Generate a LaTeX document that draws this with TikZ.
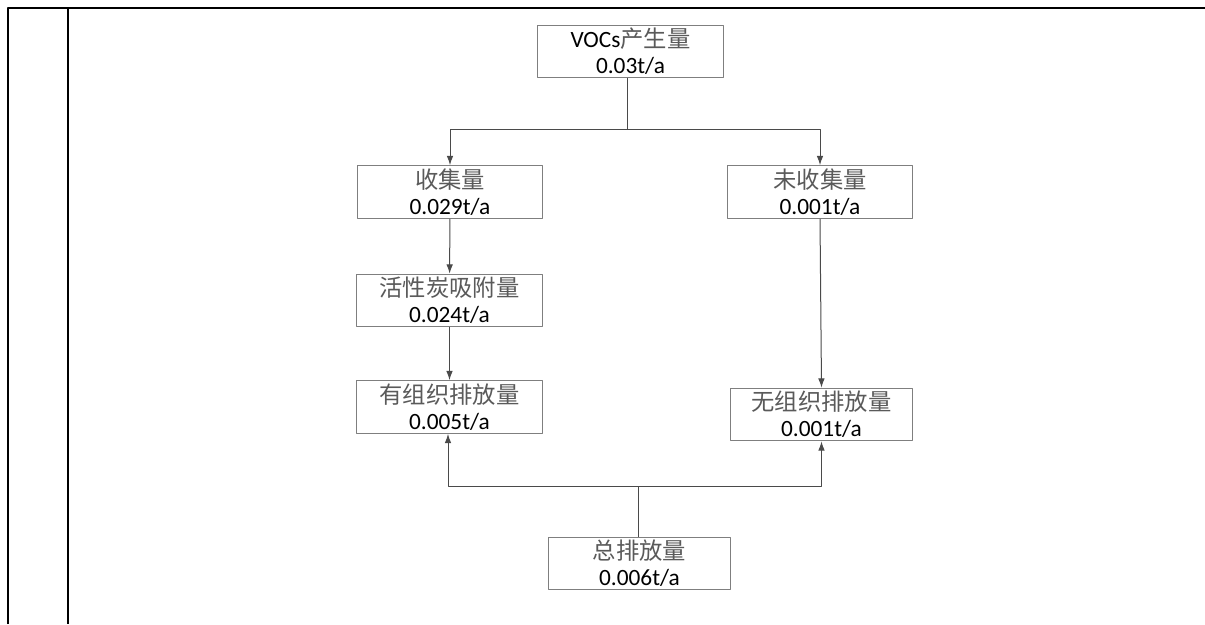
\documentclass[tikz,border=0pt]{standalone}
\usepackage{fontspec}
\setmainfont{Carlito}
\newfontfamily\cjk{Noto Sans CJK SC}
\usepackage{tikz}
\usetikzlibrary{arrows.meta,calc,positioning}
\usepackage{xcolor}
\definecolor{boxgray}{HTML}{7F7F7F}
\definecolor{linegray}{HTML}{4A4A4A}
\definecolor{cngray}{HTML}{5A5A5A}
\newcommand{\cn}[1]{{\cjk\color{cngray}#1}}

\begin{document}
\begin{tikzpicture}[x=0.75pt,y=0.75pt,>={Latex[length=7pt,width=5pt]},line join=round,
  flowbox/.style={draw=boxgray,line width=0.8pt,fill=white,align=center,inner sep=0pt,
    minimum width=139pt,minimum height=39.5pt,font=\fontsize{17.5}{19.5}\selectfont},
  flowline/.style={draw=linegray,line width=0.75pt}]
  \useasboundingbox (0,0) rectangle (1205,624);
  % table frame
  \draw[line width=1.1pt] (8,0) -- (8,616) -- (1205,616);
  \draw[line width=1.1pt] (68,616) -- (68,0);
  % boxes
  \node[flowbox] (voc) at (630.5,572.5) {VOCs\cn{产生量}\\0.03t/a};
  \node[flowbox] (col) at (450,432) {\cn{收集量}\\0.029t/a};
  \node[flowbox] (unc) at (820,432) {\cn{未收集量}\\0.001t/a};
  \node[flowbox] (act) at (449.5,323.5) {\cn{活性炭吸附量}\\0.024t/a};
  \node[flowbox] (org) at (449.5,217) {\cn{有组织排放量}\\0.005t/a};
  \node[flowbox,minimum width=136pt] (fug) at (821.5,209.5) {\cn{无组织排放量}\\0.001t/a};
  \node[flowbox,minimum width=136pt] (tot) at (639.5,60.5) {\cn{总排放量}\\0.006t/a};
  % connectors
  \coordinate (split) at ($(voc.south)+(-3,0)$);
  \coordinate (splitb) at (split |- 0,494);
  \draw[flowline] (split) -- (splitb);
  \draw[flowline,->] (splitb) -| (col.north);
  \draw[flowline,->] (splitb) -| (unc.north);
  \draw[flowline,->] (col) -- (act);
  \draw[flowline,->] (act) -- (org);
  \draw[flowline,->] (unc.south) -- (fug.north);
  \coordinate (join) at ($(tot.north)+(-1.5,0)$);
  \coordinate (joinb) at (join |- 0,137);
  \draw[flowline] (join) -- (joinb);
  \draw[flowline,->] (joinb) -| ($(org.south)+(-1.5,0)$);
  \draw[flowline,->] (joinb) -| (fug.south);
\end{tikzpicture}
\end{document}
